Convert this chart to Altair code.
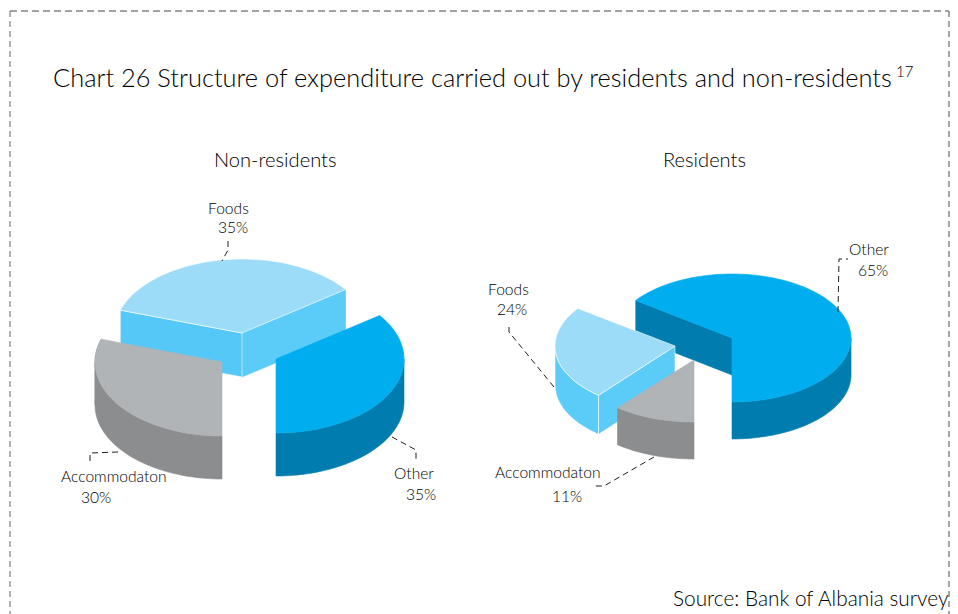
import math
import altair as alt
import pandas as pd

# ---- values
segments = ["Other", "Foods", "Accommodaton"]
non_residents = [35, 35, 30]
residents = [65, 24, 11]

# ---- styles
top_colors = {"Other": "#00AEEF", "Foods": "#9CDCF9", "Accommodaton": "#B0B4B7"}
wall_colors = {"Other": "#007DAE", "Foods": "#5BCBF8", "Accommodaton": "#8B8D8F"}
INK = "#000000"
FONT = "Lato"

# ---- canvas in picture pixels
W, H = 942, 606
X = alt.X("x:Q", scale=alt.Scale(domain=[8, 8 + W], range=[0, W], nice=False, zero=False), axis=None)
Y = alt.Y("y:Q", scale=alt.Scale(domain=[8 + H, 8], range=[H, 0], nice=False, zero=False), axis=None)

# ---- exploded pie geometry: centre x, centre y, rx, ry, depth per slice
geom_non = {
    "Other": (276, 359, 128, 74, 43),
    "Foods": (242, 333, 128, 74, 44),
    "Accommodaton": (222, 362, 127, 74, 43),
}
geom_res = {
    "Other": (732, 338, 119, 64, 37),
    "Foods": (675, 346, 120, 64, 39),
    "Accommodaton": (694, 360, 120, 62, 37),
}


def spans(shares):
    out, start = {}, 0.0
    for name, share in zip(segments, shares):
        out[name] = (start, start + share * 3.6)
        start += share * 3.6
    return out


def pt(g, a, drop=0):
    cx, cy, rx, ry, _ = g
    r = math.radians(a)
    return (cx + rx * math.sin(r), cy + ry * math.cos(r) + drop)


def arc(g, a0, a1, drop=0):
    n = max(2, int(abs(a1 - a0) / 2) + 1)
    return [pt(g, a0 + (a1 - a0) * i / (n - 1), drop) for i in range(n)]


def poly_layer(points, fill, stroke=None, sw=0.6):
    pts = list(points) + [points[0]]
    df = pd.DataFrame({"x": [p[0] for p in pts], "y": [p[1] for p in pts], "i": range(len(pts))})
    return alt.Chart(df).mark_line(
        fill=fill, stroke=stroke or fill, strokeWidth=sw, interpolate="linear"
    ).encode(x=X, y=Y, order="i:Q")


def top(g, a0, a1, color, stroke=None):
    return poly_layer([(g[0], g[1])] + arc(g, a0, a1), color, stroke)


def outer(g, a0, a1, color, stroke=None):
    return poly_layer(arc(g, a0, a1) + arc(g, a1, a0, g[4]), color, stroke)


def cut(g, a, color, stroke=None):
    c = (g[0], g[1])
    e = pt(g, a)
    return poly_layer([c, e, (e[0], e[1] + g[4]), (c[0], c[1] + g[4])], color, stroke)


layers = []
s = spans(non_residents)
# Non-residents: back slice first
g = geom_non["Foods"]
layers += [cut(g, s["Foods"][0], wall_colors["Foods"]), cut(g, s["Foods"][1], "#55C8F7", "#FFFFFF"),
           top(g, *s["Foods"], top_colors["Foods"], "#FFFFFF")]
g = geom_non["Accommodaton"]
layers += [outer(g, 270, 360, wall_colors["Accommodaton"]),
           outer(g, s["Accommodaton"][0], 270, wall_colors["Accommodaton"]),
           top(g, *s["Accommodaton"], top_colors["Accommodaton"])]
g = geom_non["Other"]
layers += [outer(g, 0, 90, wall_colors["Other"]), top(g, *s["Other"], top_colors["Other"])]

s = spans(residents)
g = geom_res["Other"]
layers += [cut(g, s["Other"][1], wall_colors["Other"]), outer(g, 0, 90, wall_colors["Other"]),
           top(g, *s["Other"], top_colors["Other"])]
g = geom_res["Foods"]
layers += [outer(g, 270, s["Foods"][1], wall_colors["Foods"], "#FFFFFF"),
           cut(g, s["Foods"][1], wall_colors["Foods"], "#FFFFFF"),
           top(g, *s["Foods"], top_colors["Foods"], "#FFFFFF")]
g = geom_res["Accommodaton"]
layers += [outer(g, s["Accommodaton"][0], 360, wall_colors["Accommodaton"]),
           top(g, *s["Accommodaton"], top_colors["Accommodaton"])]

# ---- dashed leaders
leaders = [
    [(228, 241), (228, 250), (222, 261)],
    [(392, 437), (416, 450), (416, 461)],
    [(118, 452), (90, 453), (90, 464)],
    [(838, 312), (839, 259), (848, 259)],
    [(554, 387), (509, 332), (509, 323)],
    [(654, 457), (604, 486), (594, 486)],
]
rows = [{"k": k, "i": i, "x": p[0], "y": p[1]} for k, l in enumerate(leaders) for i, p in enumerate(l)]
layers.append(
    alt.Chart(pd.DataFrame(rows)).mark_line(color="#231F20", strokeWidth=1, strokeDash=[6, 4]).encode(
        x=X, y=Y, detail="k:N", order="i:Q")
)

# ---- frame
frame_top = pd.DataFrame({"x": [10, 949], "y": [11, 11], "i": [0, 1]})
frame_left = pd.DataFrame({"x": [10, 10], "y": [11, 614], "i": [0, 1]})
frame_right = pd.DataFrame({"x": [949, 949], "y": [11, 614], "i": [0, 1]})
layers.append(alt.Chart(frame_top).mark_line(color="#444444", strokeWidth=1, strokeDash=[7, 4]).encode(x=X, y=Y, order="i:Q"))
layers.append(alt.Chart(frame_left).mark_line(color="#666666", strokeWidth=1, strokeDash=[6, 4]).encode(x=X, y=Y, order="i:Q"))
layers.append(alt.Chart(frame_right).mark_line(color="#888888", strokeWidth=1.5, strokeDash=[6, 4]).encode(x=X, y=Y, order="i:Q"))

# ---- text
labels = ["Chart 26 Structure of expenditure carried out by residents and non-residents", "17",
          "Non-residents", "Residents",
          "Foods", "35%", "Other", "35%", "Accommodaton", "30%",
          "Other", "65%", "Foods", "24%", "Accommodaton", "11%",
          "Source: Bank of Albania survey"]
label_x = [53, 896, 214, 663, 208, 218, 394, 406, 61, 81, 849, 858, 488, 497, 495, 552, 673]
label_y = [87, 77, 167, 167, 214, 233, 479, 500, 482, 503, 255, 276, 295, 315, 478, 502, 606]
label_size = [25.4, 15, 20.1, 20.1, 15.6, 15.6, 15.6, 15.6, 15.6, 15.6, 15.6, 15.6, 15.6, 15.6, 15.6, 15.6, 20.8]
text_df = pd.DataFrame({"x": label_x, "y": label_y, "label": labels, "s": label_size})
layers.append(
    alt.Chart(text_df).mark_text(align="left", baseline="alphabetic", font=FONT, fontWeight=300, color=INK).encode(
        x=X, y=Y, text="label:N", size=alt.Size("s:Q", scale=None, legend=None))
)

chart = alt.layer(*layers).properties(
    width=W, height=H, padding=0, autosize=alt.AutoSizeParams(type="none"),
    background="white",
).configure_view(stroke=None)

chart.save("out.html", embed_options={"renderer": "svg", "actions": False})
